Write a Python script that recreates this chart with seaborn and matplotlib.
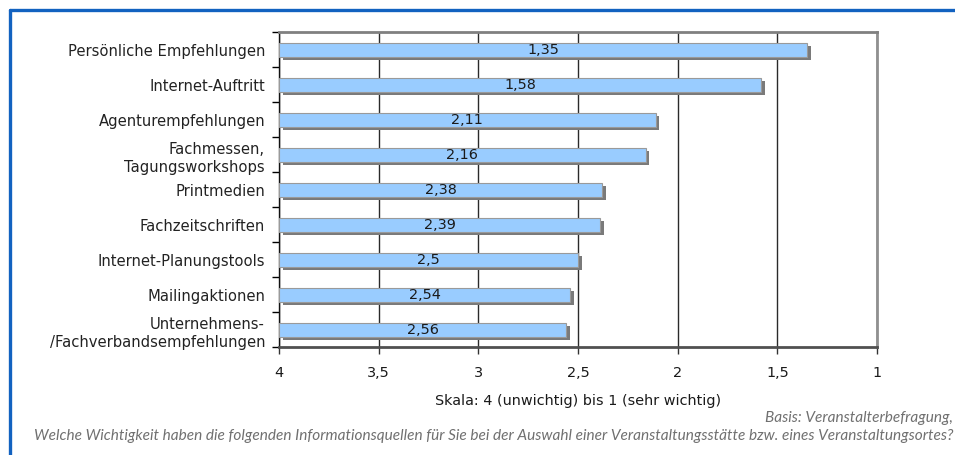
import matplotlib
matplotlib.use("Agg")
import matplotlib.pyplot as plt
import matplotlib.patheffects as pe
from matplotlib.lines import Line2D
from matplotlib.ticker import FixedLocator, FuncFormatter
import seaborn as sns
import pandas as pd

categories = [
    "Persönliche Empfehlungen",
    "Internet-Auftritt",
    "Agenturempfehlungen",
    "Fachmessen,\nTagungsworkshops",
    "Printmedien",
    "Fachzeitschriften",
    "Internet-Planungstools",
    "Mailingaktionen",
    "Unternehmens-\n/Fachverbandsempfehlungen",
]
values = [1.35, 1.58, 2.11, 2.16, 2.38, 2.39, 2.5, 2.54, 2.56]
x_ticks = [4, 3.5, 3, 2.5, 2, 1.5, 1]
x_label = "Skala: 4 (unwichtig) bis 1 (sehr wichtig)"
note_basis = "Basis: Veranstalterbefragung,"
note_question = ("Welche Wichtigkeit haben die folgenden Informationsquellen für Sie bei der "
                 "Auswahl einer Veranstaltungsstätte bzw. eines Veranstaltungsortes?")

scale_start = 4

sns.set_theme(style="white")
plt.rcParams["font.family"] = ["DejaVu Sans"]

df = pd.DataFrame({"Quelle": categories, "Wert": values})

fig = plt.figure(figsize=(9.55, 4.56), dpi=100)
ax = fig.add_axes([279 / 955, 1 - 348 / 456, 598 / 955, 315 / 456])

sns.barplot(data=df, x="Wert", y="Quelle", orient="h", color="#99CCFF",
            edgecolor="#9a9a9a", linewidth=0.8, width=0.4, saturation=1, ax=ax,
            zorder=3)

# bars run from the scale start (4) towards the value, with a drop shadow
shadow = [pe.SimplePatchShadow(offset=(2.6, -2.6), shadow_rgbFace="#7a7a7a", alpha=1.0),
          pe.Normal()]
for patch, v in zip(ax.patches, values):
    patch.set_x(scale_start)
    patch.set_width(v - scale_start)
    patch.set_path_effects(shadow)

for i, v in enumerate(values):
    ax.text((scale_start + v) / 2, i, f"{v:g}".replace(".", ","),
            ha="center", va="center", fontsize=10.4, color="#1a1a1a", zorder=5)

ax.set_xlim(4, 1)
ax.set_ylim(len(categories) - 0.5, -0.5)

ax.xaxis.set_major_locator(FixedLocator(x_ticks))
ax.xaxis.set_major_formatter(FuncFormatter(lambda t, _: f"{t:g}".replace(".", ",")))
ax.tick_params(axis="x", direction="out", length=5, width=1, color="#333333",
               labelsize=10.4, labelcolor="#1a1a1a", pad=8, bottom=True)

ax.set_yticks(range(len(categories)))
ax.set_yticklabels(categories, fontsize=10.6, color="#222222",
                   multialignment="right", linespacing=1.25)
ax.set_yticks([i - 0.5 for i in range(len(categories) + 1)], minor=True)
ax.tick_params(axis="y", which="major", length=0, pad=10)
ax.tick_params(axis="y", which="minor", direction="out", length=5, width=1,
               color="black", left=True)

ax.set_xlabel(x_label, fontsize=10.4, color="#1a1a1a", labelpad=10)
ax.set_ylabel("")

ax.grid(axis="x", color="#2a2a2a", linewidth=1.0, zorder=0)
ax.grid(axis="y", visible=False)
ax.set_axisbelow(True)

for side, col, lw in [("top", "#808080", 2.0), ("right", "#909090", 2.0),
                      ("left", "#111111", 1.0), ("bottom", "#505050", 2.0)]:
    ax.spines[side].set_visible(True)
    ax.spines[side].set_color(col)
    ax.spines[side].set_linewidth(lw)

# footnotes
note_font = dict(family=["Lato", "DejaVu Sans"], style="italic", fontweight="normal",
                 fontsize=11.1, color="#707070", ha="right", va="center")
fig.text(953 / 955, 1 - 418 / 456, note_basis, **note_font)
fig.text(953 / 955, 1 - 436 / 456, note_question, **note_font)

# frame lines along the top and left edge
frame_col = "#1262c0"
fig.add_artist(Line2D([10 / 955, 1], [1 - 11 / 456, 1 - 11 / 456],
                      transform=fig.transFigure, color=frame_col, linewidth=2.4))
fig.add_artist(Line2D([10 / 955, 10 / 955], [0, 1 - 11 / 456],
                      transform=fig.transFigure, color=frame_col, linewidth=2.4))

fig.savefig("out.png", dpi=100)
